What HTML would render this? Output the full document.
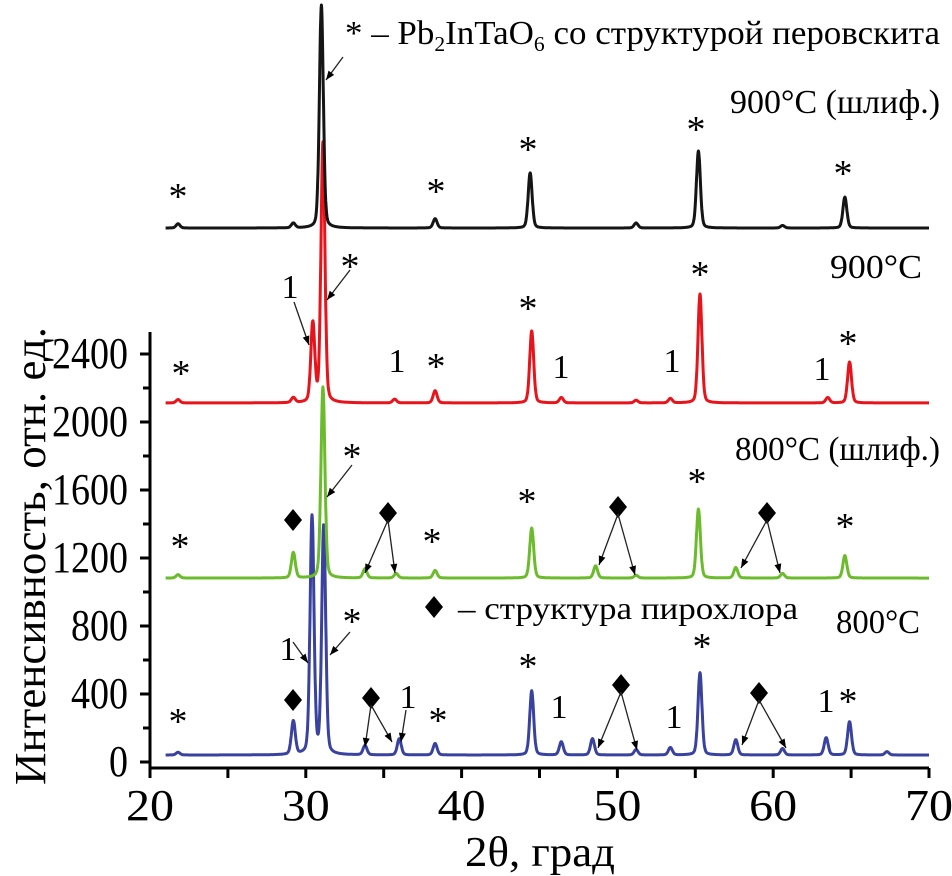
<!DOCTYPE html>
<html><head><meta charset="utf-8"><style>
html,body{margin:0;padding:0;background:#fff;}
svg{display:block;font-family:"Liberation Serif",serif;}
</style></head><body>
<svg id="chart" width="952" height="876" viewBox="0 0 952 876" xmlns="http://www.w3.org/2000/svg">
<g id="axes"></g>
<g id="traces"></g>
<g id="annot" fill="#000" font-size="30">
  <text x="345" y="44" font-size="34" textLength="595" lengthAdjust="spacingAndGlyphs">* – Pb<tspan font-size="21" dy="7">2</tspan><tspan dy="-7">InTaO</tspan><tspan font-size="21" dy="7">6</tspan><tspan dy="-7"> со структурой перовскита</tspan></text>
  <text x="940" y="113" font-size="34" text-anchor="end" textLength="210" lengthAdjust="spacingAndGlyphs">900°C (шлиф.)</text>
  <text x="922" y="278" font-size="34" text-anchor="end" textLength="92" lengthAdjust="spacingAndGlyphs">900°C</text>
  <text x="940" y="460" font-size="34" text-anchor="end" textLength="205" lengthAdjust="spacingAndGlyphs">800°C (шлиф.)</text>
  <text x="920" y="633" font-size="34" text-anchor="end" textLength="84" lengthAdjust="spacingAndGlyphs">800°C</text>
  <text x="458" y="619" font-size="32" textLength="340" lengthAdjust="spacingAndGlyphs">– структура пирохлора</text>
</g>
</svg>
<script>
// Axis ranges
const xTicks = [20, 30, 40, 50, 60, 70];
const yTicks = [0, 400, 800, 1200, 1600, 2000, 2400];
// Series: baselines (intensity units)
const baseBlack = 3141, baseRed = 2112, baseGreen = 1082, baseBlue = 41;
// Peak positions (2θ) and heights (above baseline)
const blackPos = [21.8, 29.2, 31.0, 38.3, 44.4, 51.2, 55.2, 60.6, 64.6];
const blackHt  = [25, 28, 1312, 55, 324, 30, 453, 15, 182];
const redPos = [21.8, 29.2, 30.45, 31.1, 35.7, 38.3, 44.5, 46.4, 51.2, 53.4, 55.3, 63.5, 64.9];
const redHt  = [20, 30, 465, 1530, 22, 72, 424, 32, 16, 26, 641, 32, 241];
const greenPos = [21.8, 29.2, 31.1, 33.8, 35.8, 38.3, 44.5, 48.6, 51.2, 55.2, 57.6, 60.6, 64.6];
const greenHt  = [20, 150, 1124, 55, 27, 45, 294, 72, 16, 406, 62, 27, 132];
const bluePos = [21.8, 29.2, 30.4, 31.15, 33.8, 36.0, 38.3, 44.5, 46.4, 48.4, 51.2, 53.4, 55.3, 57.6, 60.6, 63.4, 64.9, 67.3];
const blueHt  = [16, 196, 1400, 1345, 55, 96, 68, 378, 78, 96, 32, 44, 484, 90, 38, 102, 196, 20];

const NS = "http://www.w3.org/2000/svg";
const X = v => 150 + (v - 20) * 15.58;
const Y = v => 762 - v * 0.17;
function mk(tag, attrs, parent){ const e=document.createElementNS(NS,tag); for(const k in attrs) e.setAttribute(k,attrs[k]); parent.appendChild(e); return e; }

const axes = document.getElementById('axes');
let e;
e = mk('path',{d:`M150 332 V768 H${X(70)}`,fill:'none',stroke:'#000','stroke-width':3},axes);


for (let v=20; v<=70; v+=5){
  e = mk('line',{x1:X(v),x2:X(v),y1:768,y2:778,stroke:'#000','stroke-width':3},axes);
  
  
}
xTicks.forEach(v=>{
  e = mk('text',{x:X(v),y:820,'font-size':44,'text-anchor':'middle',textLength:48,lengthAdjust:'spacingAndGlyphs'},axes);
  e.textContent = v;
  
  
});
for (let v=0; v<=2400; v+=200){
  e = mk('line',{x1:v%400===0?140:143,x2:150,y1:Y(v),y2:Y(v),stroke:'#000','stroke-width':3},axes);
  
  
}
yTicks.forEach(v=>{
  const s=String(v);
  e = mk('text',{x:128,y:Y(v)+14,'font-size':44,'text-anchor':'end',textLength:s.length*19,lengthAdjust:'spacingAndGlyphs'},axes);
  e.textContent = s;
  
  
});
e = mk('text',{x:540,y:866,'font-size':42,'text-anchor':'middle',textLength:150,lengthAdjust:'spacingAndGlyphs'},axes);
e.textContent = '2θ, град';


e = mk('text',{x:0,y:0,'font-size':44,'text-anchor':'middle',textLength:458,lengthAdjust:'spacingAndGlyphs',transform:'translate(45,556) rotate(-90)'},axes);
e.textContent = 'Интенсивность, отн. ед.';



function profile(t, pos, ht){
  let s=0;
  for(let i=0;i<pos.length;i++){
    const d=(t-pos[i])/0.15;
    s += ht[i]*(0.75*Math.exp(-0.693*d*d) + 0.25/(1+d*d));
  }
  return s;
}
const traces = document.getElementById('traces');
function drawSeries(name, base, pos, ht, color){
  let d='';
  for(let t=21; t<=70.001; t+=0.02){
    const v = base + profile(t,pos,ht);
    d += (d?'L':'M') + X(t).toFixed(1) + ' ' + Y(v).toFixed(1);
  }
  const p = mk('path',{d:d,fill:'none',stroke:color,'stroke-width':3,'stroke-linejoin':'round'},traces);
  
  
}
drawSeries('series-800', baseBlue, bluePos, blueHt, '#3a42a0');
drawSeries('series-800-polished', baseGreen, greenPos, greenHt, '#6cbb2c');
drawSeries('series-900', baseRed, redPos, redHt, '#e8141c');
drawSeries('series-900-polished', baseBlack, blackPos, blackHt, '#151515');

// annotations
const an = document.getElementById('annot');
const stars = [[178,195],[436,190],[528,148],[696,128],[843,172],
  [181,372],[436,365],[528,307],[700,273],[848,342],[350,265],
  [180,545],[432,540],[527,500],[697,480],[845,525],[352,455],
  [178,720],[438,719],[528,665],[702,645],[848,700],[352,620]];
stars.forEach(([x,y])=>{
  const t=mk('text',{x:x,y:y+14,'font-size':38,'text-anchor':'middle'},an);
  t.textContent='*';
  
  
});
const ones = [[290,298],[397,372],[561,378],[672,372],[822,380],
  [288,660],[408,708],[559,718],[674,728],[826,712]];
ones.forEach(([x,y])=>{
  const t=mk('text',{x:x,y:y,'font-size':34,'text-anchor':'middle'},an);
  t.textContent='1';
  
  
});
const diamonds = [[293,520],[388,513],[618,507],[767,513],[293,700],[371,698],[621,685],[759,693],[434,607]];
diamonds.forEach(([x,y])=>{
  const p=mk('path',{d:`M${x} ${y-11} L${x+9} ${y} L${x} ${y+11} L${x-9} ${y} Z`,fill:'#000'},an);
  
  
});
const arrows = [[343,57,326,80],[350,270,327,300],[294,302,309,345],[352,465,327,497],
  [388,520,365,573],[388,520,395,573],[618,514,599,565],[618,514,635,575],[767,520,741,568],[767,520,780,573],
  [293,642,308,663],[350,632,330,655],[371,705,365,747],[371,705,392,742],[406,710,401,742],
  [621,692,598,748],[621,692,637,750],[759,700,742,745],[759,700,786,748]];
arrows.forEach(([x1,y1,x2,y2])=>{
  const g=mk('g',{},an);
  
  
  mk('line',{x1:x1,y1:y1,x2:x2,y2:y2,stroke:'#222','stroke-width':1.3},g);
  const a=Math.atan2(y2-y1,x2-x1), L=9, W=3.5;
  const bx=x2-L*Math.cos(a), by=y2-L*Math.sin(a);
  mk('path',{d:`M${x2} ${y2} L${bx+W*Math.sin(a)} ${by-W*Math.cos(a)} L${bx-W*Math.sin(a)} ${by+W*Math.cos(a)} Z`,fill:'#000'},g);
});
</script>
</body></html>
